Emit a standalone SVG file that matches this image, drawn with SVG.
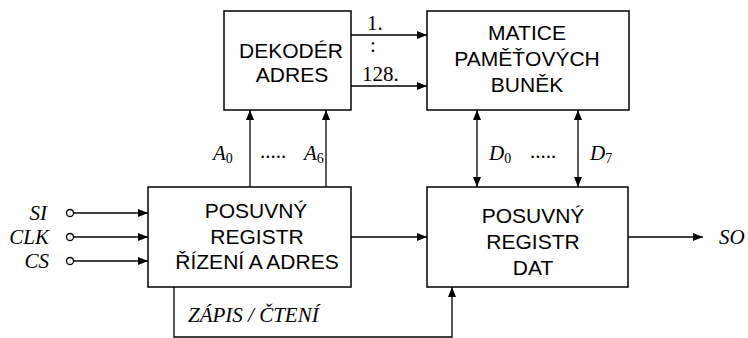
<svg xmlns="http://www.w3.org/2000/svg" width="748" height="338" viewBox="0 0 748 338">
<style>
.box{fill:#fff;stroke:#000;stroke-width:1.5}
.ln{fill:none;stroke:#000;stroke-width:1.3}
.t{font-family:"Liberation Sans",Arial,sans-serif;font-size:21px;fill:#000;text-anchor:middle}
.s{font-family:"Liberation Serif","Times New Roman",serif;font-size:21px;fill:#000}
.i{font-style:italic}
.sub{font-size:14px;font-style:normal}
</style>
<defs>
<marker id="ah" viewBox="0 0 10 8" refX="10" refY="4" markerWidth="10" markerHeight="8" markerUnits="userSpaceOnUse" orient="auto-start-reverse">
<path d="M0,0 L10,4 L0,8 Z" fill="#000"/>
</marker>
</defs>
<g id="connectors">
<line class="ln" x1="351" y1="35" x2="427" y2="35" marker-end="url(#ah)"/>
<line class="ln" x1="351" y1="86" x2="427" y2="86" marker-end="url(#ah)"/>
<line class="ln" x1="250" y1="187" x2="250" y2="110" marker-end="url(#ah)"/>
<line class="ln" x1="326" y1="187" x2="326" y2="110" marker-end="url(#ah)"/>
<line class="ln" x1="477" y1="110" x2="477" y2="187" marker-start="url(#ah)" marker-end="url(#ah)"/>
<line class="ln" x1="578" y1="110" x2="578" y2="187" marker-start="url(#ah)" marker-end="url(#ah)"/>
<line class="ln" x1="351" y1="237" x2="427" y2="237" marker-end="url(#ah)"/>
<line class="ln" x1="628" y1="237" x2="703" y2="237" marker-end="url(#ah)"/>
<line class="ln" x1="73.5" y1="213" x2="148" y2="213" marker-end="url(#ah)"/>
<line class="ln" x1="73.5" y1="237" x2="148" y2="237" marker-end="url(#ah)"/>
<line class="ln" x1="73.5" y1="261" x2="148" y2="261" marker-end="url(#ah)"/>
<circle class="ln" cx="70" cy="213" r="3.5" fill="#fff"/>
<circle class="ln" cx="70" cy="237" r="3.5" fill="#fff"/>
<circle class="ln" cx="70" cy="261" r="3.5" fill="#fff"/>
<polyline class="ln" points="174,287 174,337 452,337 452,287" marker-end="url(#ah)"/>
</g>
<g id="decoder">
<rect class="box" x="224" y="11" width="127" height="99"/>
<text class="t" x="291" y="58">DEKODÉR</text>
<text class="t" x="292" y="82">ADRES</text>
</g>
<g id="matrix">
<rect class="box" x="427" y="11" width="202" height="99"/>
<text class="t" x="527" y="40">MATICE</text>
<text class="t" x="527" y="66">PAMĚŤOVÝCH</text>
<text class="t" x="527" y="92">BUNĚK</text>
</g>
<g id="ctrlreg">
<rect class="box" x="148" y="187" width="203" height="100"/>
<text class="t" x="256" y="218">POSUVNÝ</text>
<text class="t" x="257" y="244">REGISTR</text>
<text class="t" x="257" y="269">ŘÍZENÍ A ADRES</text>
</g>
<g id="datareg">
<rect class="box" x="427" y="187" width="201" height="100"/>
<text class="t" x="533" y="223">POSUVNÝ</text>
<text class="t" x="533" y="249">REGISTR</text>
<text class="t" x="533" y="275">DAT</text>
</g>
<g id="labels">
<text class="s" x="367" y="30">1.</text>
<text class="s" x="370" y="52">:</text>
<text class="s" x="362" y="81">128.</text>
<text class="s i" x="213" y="160">A<tspan class="sub" dy="3">0</tspan></text>
<text class="s" x="260" y="158">.....</text>
<text class="s i" x="304" y="160">A<tspan class="sub" dy="3">6</tspan></text>
<text class="s i" x="489" y="160">D<tspan class="sub" dy="3">0</tspan></text>
<text class="s" x="530" y="158">.....</text>
<text class="s i" x="590" y="160">D<tspan class="sub" dy="3">7</tspan></text>
<text class="s i" x="47" y="220" text-anchor="end">SI</text>
<text class="s i" x="49" y="244" text-anchor="end">CLK</text>
<text class="s i" x="49" y="268" text-anchor="end">CS</text>
<text class="s i" x="719" y="244">SO</text>
<text class="s i" x="188" y="322">ZÁPIS / ČTENÍ</text>
</g>
</svg>
